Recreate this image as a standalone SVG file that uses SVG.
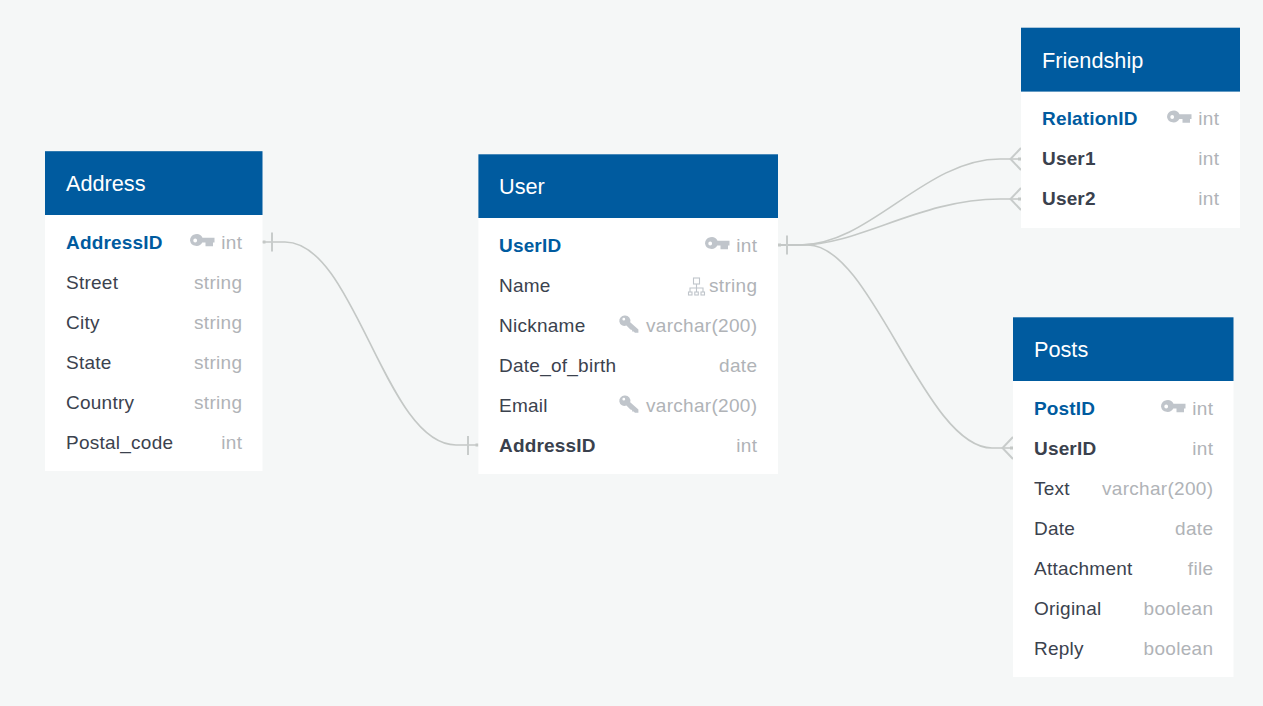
<svg xmlns="http://www.w3.org/2000/svg" width="1263" height="706" viewBox="0 0 1263 706">
<style>
text{font-family:"Liberation Sans",Arial,sans-serif;font-size:19px;letter-spacing:.25px}
.h{fill:#fff;font-size:21.700px;letter-spacing:0}
.n{fill:#3b424e}
.b{fill:#3a414d;font-weight:700;letter-spacing:.17px}
.p{fill:#005b9f;font-weight:700;letter-spacing:.17px}
.t{fill:#b0b3b7;text-anchor:end;letter-spacing:.3px}
.hd{fill:#005b9f}
.bd{fill:#fff}
.c{fill:none;stroke:#c4c8c6;stroke-width:1.600}
.m{fill:none;stroke:#c8cccb;stroke-width:2}
.s{fill:#c4c8c6}
.k{fill:#c0c5cb}
</style>
<defs>
<path id="key" class="k" fill-rule="evenodd" d="M0 0a6.600 6.600 0 0 1 12.500-2.800H24.500V2H23v3.800h-7.500V2h-3.200A6.600 6.600 0 0 1 0 0zM3.300 0a1.900 1.900 0 1 0 3.800 0a1.900 1.900 0 1 0-3.800 0z"/>
<path id="ukey" class="k" fill-rule="evenodd" d="M5-11.400a5.200 5.200 0 0 1 5.200 6.600L18.400 2.400V5.800H15L13.600 4.400l-1.500.2V2.900L10.400 2.600 6.400-1.400A5.200 5.200 0 1 1 5-11.400zM2.400-7.800a1.400 1.400 0 1 0 2.800 0a1.400 1.400 0 1 0-2.800 0z"/>
<g id="tree" fill="none" stroke="#c0c5cb" stroke-width="1.100"><rect x="5.500" y="-8" width="6" height="6"/><path d="M8.500-2v4M2 6V2h13v4M8.500 2v4"/><rect x=".5" y="6" width="3.500" height="3"/><rect x="6.800" y="6" width="3.500" height="3"/><rect x="13" y="6" width="3.500" height="3"/></g>
</defs>
<rect width="1263" height="706" fill="#f5f7f7"/>
<g id="connectors">
<path class="c" d="M262 242H285C355 242 385 445 456 445H478"/>
<path class="c" d="M778 245H800C870 245 925 159 1000 159H1021"/>
<path class="c" d="M778 245H800C860 245 920 199 1000 199H1021"/>
<path class="c" d="M778 245H808C872 245 925 448 992 448H1013"/>
<path class="m" d="M272 232.500v19M468 436v19M787 235.500v19"/>
<path class="m" d="M1021 148l-10.500 11 10.500 11M1021 188l-10.500 11 10.500 11M1013 437l-10.500 11 10.500 11"/>
<path class="s" d="M262.500 240.500h3v3h-3zM475.500 443.500h3v3h-3zM778 243.500h3v3h-3zM1018 157.500h3v3h-3zM1018 197.500h3v3h-3zM1010 446.500h3v3h-3z"/>
</g>
<g id="address">
<rect class="bd" x="45" y="215" width="217.500" height="256"/><rect class="hd" x="45" y="151.200" width="217.500" height="63.800"/>
<text class="h" x="66" y="191">Address</text>
<text class="p" x="66" y="249">AddressID</text><use href="#key" x="190" y="240.500"/><text class="t" x="242.300" y="249">int</text>
<text class="n" x="66" y="289">Street</text><text class="t" x="242.300" y="289">string</text>
<text class="n" x="66" y="329">City</text><text class="t" x="242.300" y="329">string</text>
<text class="n" x="66" y="369">State</text><text class="t" x="242.300" y="369">string</text>
<text class="n" x="66" y="409">Country</text><text class="t" x="242.300" y="409">string</text>
<text class="n" x="66" y="449">Postal_code</text><text class="t" x="242.300" y="449">int</text>
</g>
<g id="user">
<rect class="bd" x="478.400" y="218" width="299.600" height="256"/><rect class="hd" x="478.400" y="154.300" width="299.600" height="63.700"/>
<text class="h" x="499" y="194">User</text>
<text class="p" x="499" y="252">UserID</text><use href="#key" x="705" y="243.500"/><text class="t" x="757.300" y="252">int</text>
<text class="n" x="499" y="292">Name</text><use href="#tree" x="688" y="286"/><text class="t" x="757.300" y="292">string</text>
<text class="n" x="499" y="332">Nickname</text><use href="#ukey" x="620" y="327"/><text class="t" x="757.300" y="332">varchar(200)</text>
<text class="n" x="499" y="372">Date_of_birth</text><text class="t" x="757.300" y="372">date</text>
<text class="n" x="499" y="412">Email</text><use href="#ukey" x="620" y="407"/><text class="t" x="757.300" y="412">varchar(200)</text>
<text class="b" x="499" y="452">AddressID</text><text class="t" x="757.300" y="452">int</text>
</g>
<g id="friendship">
<rect class="bd" x="1021" y="91.600" width="219" height="136.400"/><rect class="hd" x="1021" y="27.700" width="219" height="63.900"/>
<text class="h" x="1042" y="68">Friendship</text>
<text class="p" x="1042" y="125">RelationID</text><use href="#key" x="1167" y="117"/><text class="t" x="1219.300" y="125">int</text>
<text class="b" x="1042" y="165">User1</text><text class="t" x="1219.300" y="165">int</text>
<text class="b" x="1042" y="205">User2</text><text class="t" x="1219.300" y="205">int</text>
</g>
<g id="posts">
<rect class="bd" x="1013" y="381" width="220.500" height="296"/><rect class="hd" x="1013" y="317.300" width="220.500" height="63.700"/>
<text class="h" x="1034" y="357">Posts</text>
<text class="p" x="1034" y="415">PostID</text><use href="#key" x="1161" y="406.500"/><text class="t" x="1213.300" y="415">int</text>
<text class="b" x="1034" y="455">UserID</text><text class="t" x="1213.300" y="455">int</text>
<text class="n" x="1034" y="495">Text</text><text class="t" x="1213.300" y="495">varchar(200)</text>
<text class="n" x="1034" y="535">Date</text><text class="t" x="1213.300" y="535">date</text>
<text class="n" x="1034" y="575">Attachment</text><text class="t" x="1213.300" y="575">file</text>
<text class="n" x="1034" y="615">Original</text><text class="t" x="1213.300" y="615">boolean</text>
<text class="n" x="1034" y="655">Reply</text><text class="t" x="1213.300" y="655">boolean</text>
</g>
</svg>
